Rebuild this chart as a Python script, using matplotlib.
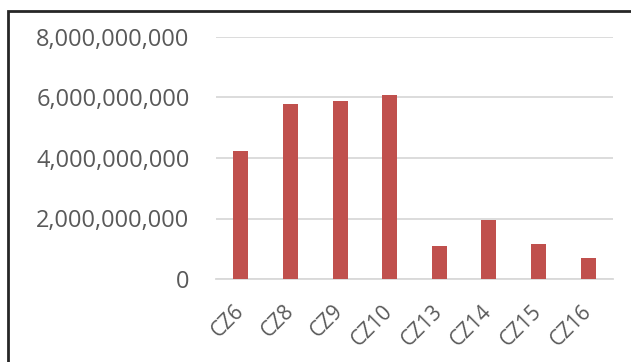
import matplotlib
matplotlib.use("Agg")
import matplotlib.pyplot as plt
from matplotlib.patches import Rectangle
from matplotlib.ticker import FuncFormatter, MultipleLocator

# 各区域数值
zones = ["CZ6", "CZ8", "CZ9", "CZ10", "CZ13", "CZ14", "CZ15", "CZ16"]
values = [4.24e9, 5.77e9, 5.88e9, 6.07e9, 1.08e9, 1.94e9, 1.16e9, 0.70e9]

BAR_COLOR = "#C0504D"
GRID_COLOR = "#D9D9D9"
TEXT_COLOR = "#595959"

plt.rcParams["font.family"] = ["Open Sans", "DejaVu Sans"]

fig = plt.figure(figsize=(6.31, 3.62), dpi=100)
ax = fig.add_axes([216 / 631, 1 - 279 / 362, (613 - 216) / 631, (279 - 37) / 362])

x = range(len(zones))
ax.bar(x, values, width=0.3, color=BAR_COLOR, zorder=3)

ax.set_xlim(-0.5, len(zones) - 0.5)
ax.set_ylim(0, 8e9)
ax.yaxis.set_major_locator(MultipleLocator(2e9))
ax.yaxis.set_major_formatter(FuncFormatter(lambda v, _: f"{v:,.0f}"))
ax.grid(axis="y", color=GRID_COLOR, linewidth=1.3, zorder=0)

for side in ["top", "right", "left"]:
    ax.spines[side].set_visible(False)
ax.spines["bottom"].set_color(GRID_COLOR)
ax.spines["bottom"].set_linewidth(1.3)

ax.tick_params(axis="y", length=0, pad=19, labelsize=17, labelcolor=TEXT_COLOR)
ax.tick_params(axis="x", length=0, pad=21, labelsize=15, labelcolor=TEXT_COLOR)
ax.set_xticks(list(x))
ax.set_xticklabels(zones, rotation=45, ha="right", va="center",
                   rotation_mode="anchor")

# 外框
fig.patches.append(Rectangle((8 / 631, -0.05), 1.1, 1 - 11 / 362 + 0.05,
                             transform=fig.transFigure, fill=False,
                             edgecolor="#262626", linewidth=2))

fig.savefig("out.png", dpi=100)
